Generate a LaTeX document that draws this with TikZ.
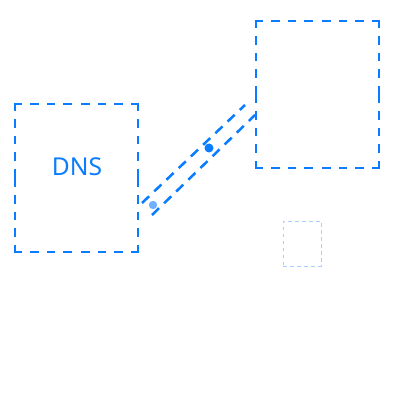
\documentclass[tikz,border=0pt]{standalone}
\usepackage{fontspec}
\setmainfont{Noto Sans}
\definecolor{netblue}{HTML}{0A7CFF}
\definecolor{lightblue}{HTML}{6FB0FF}
\definecolor{paleblue}{HTML}{A8CFFF}
% frame a node with dashes that run from each corner toward the middle of the side
\newcommand{\cornerframe}[2]{%
  \foreach \c/\m in {north west/north,north east/north,north east/east,south east/east,
                     south east/south,south west/south,south west/west,north west/west}
    \draw[#2] (#1.\c) -- (#1.\m);}
\begin{document}
\begin{tikzpicture}[x=0.025cm,y=-0.025cm,
  zone/.style={minimum width=3.075cm,minimum height=3.7cm,inner sep=0pt},
  zoneline/.style={draw=netblue,line width=1.6pt,line cap=rect,dash pattern=on 4.6pt off 7.2pt},
  hint/.style={draw=paleblue,line width=0.7pt,dash pattern=on 2.5pt off 2.5pt,
    minimum width=0.95cm,minimum height=1.125cm,inner sep=0pt},
  link/.style={draw=netblue,line width=1.8pt,dash pattern=on 7pt off 5pt},
  label/.style={text=netblue,font=\fontsize{17.5}{20}\selectfont}]
  \useasboundingbox (0,0) rectangle (400,400);
  % hosts
  \node[zone] (dns) at (76.5,178) {};
  \node[zone,minimum height=3.675cm] (srv) at (317.5,94.5) {};
  \cornerframe{dns}{zoneline}
  \cornerframe{srv}{zoneline}
  \node[hint] (box) at (302,243.5) {};
  \node[label] (dnslabel) at (77,167) {DNS};
  % tunnel end points
  \coordinate (a1) at (142,203);
  \coordinate (b1) at (245,105);
  \coordinate (a2) at (152,215);
  \coordinate (b2) at (255,115);
  \draw[link] (a1) -- (b1);
  \draw[link] (a2) -- (b2);
  % packets
  \fill[lightblue] (153,205) circle (4.2);
  \fill[netblue] (209,148) circle (4.5);
\end{tikzpicture}
\end{document}
